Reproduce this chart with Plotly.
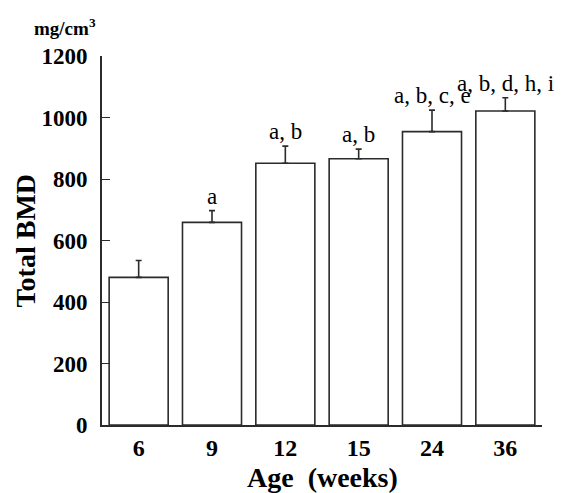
import plotly.graph_objects as go

ages = ["6", "9", "12", "15", "24", "36"]
bmd = [480, 659, 851, 866, 954, 1021]
sd = [55, 38, 56, 31, 70, 43]
letters = ["", "a", "a, b", "a, b", "a, b, c, e", "a, b, d, h, i"]
y_ticks = [0, 200, 400, 600, 800, 1000, 1200]

SERIF = "Liberation Serif, Times New Roman, serif"
INK = "#2b2b2b"

fig = go.Figure()
fig.add_trace(go.Bar(
    x=ages, y=bmd,
    marker=dict(color="white", line=dict(color=INK, width=1.6)),
    error_y=dict(type="data", array=sd, symmetric=False, arrayminus=[0]*len(sd),
                 color=INK, thickness=1.6, width=3),
    showlegend=False,
))

for i, (v, s, t) in enumerate(zip(bmd, sd, letters)):
    if t:
        fig.add_annotation(x=i, y=v + s, text=t, showarrow=False,
                           xanchor="center", yanchor="bottom", yshift=0,
                           font=dict(family=SERIF, size=23, color="black"))

fig.add_annotation(xref="paper", yref="paper", x=-0.084, y=1.078,
                   text="<b>mg/cm<sup>3</sup></b>", showarrow=False,
                   xanchor="center", yanchor="middle",
                   font=dict(family=SERIF, size=19, color="black"))
fig.add_annotation(xref="paper", yref="paper", x=0.5, y=-0.1436,
                   text="<b>Age  (weeks)</b>", showarrow=False,
                   xanchor="center", yanchor="middle",
                   font=dict(family=SERIF, size=28, color="black"))
fig.add_annotation(xref="paper", yref="paper", x=-0.175, y=0.5,
                   text="<b>Total BMD</b>", showarrow=False, textangle=-90,
                   xanchor="center", yanchor="middle",
                   font=dict(family=SERIF, size=28, color="black"))

fig.update_layout(
    width=566, height=493,
    margin=dict(l=94, r=32, t=48, b=76, autoexpand=False),
    paper_bgcolor="white", plot_bgcolor="white",
    bargap=0.195,
    font=dict(family=SERIF, color="black"),
)
fig.update_xaxes(
    type="category", range=[-0.5, 5.5], automargin=False,
    showline=True, linecolor=INK, linewidth=1.6,
    ticks="", showgrid=False,
    tickfont=dict(family=SERIF, size=24, color="black", weight="bold"),
)
fig.update_yaxes(
    range=[0, 1200], tickvals=y_ticks, automargin=False,
    showline=True, linecolor=INK, linewidth=1.6,
    ticks="inside", ticklen=8, tickcolor=INK, tickwidth=1.4,
    showgrid=False, zeroline=False,
    tickfont=dict(family=SERIF, size=23, color="black", weight="bold"),
    ticklabelstandoff=8,
)

fig.write_html("out.html")
